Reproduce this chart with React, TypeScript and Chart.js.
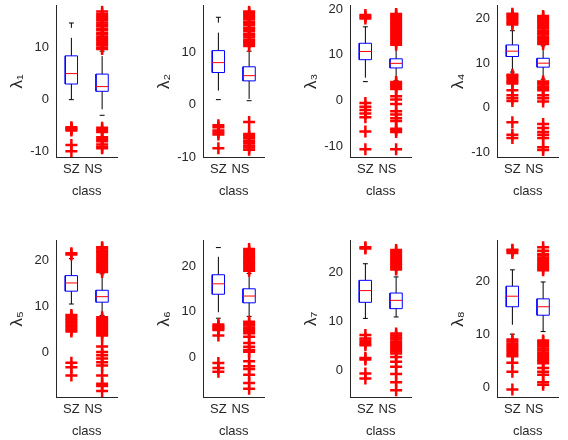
import React, { useEffect, useRef } from 'react';
import { Chart, registerables } from 'chart.js';

Chart.register(...registerables);

// ---------------- data ----------------
const classes = ['SZ', 'NS'];
const panelLabels = ['λ₁', 'λ₂', 'λ₃', 'λ₄', 'λ₅', 'λ₆', 'λ₇', 'λ₈'];
const yMin = [-11, -10, -12.4, -11.1, -9.8, -8.8, -5.5, -1.9];
const yMax = [18, 19, 20.7, 22.9, 24.3, 25.7, 26.5, 27.7];

// [SZ, NS] for each panel
const q1Values = [[3.0, 1.6], [6.2, 4.6], [8.9, 7.1], [11.5, 9.1], [13.3, 10.9], [13.9, 12.0], [13.9, 12.6], [15.2, 13.6]];
const medianValues = [[5.0, 2.5], [8.1, 5.6], [10.7, 8.1], [12.7, 10.0], [15.1, 12.1], [16.2, 13.5], [16.3, 14.3], [17.2, 15.2]];
const q3Values = [[8.4, 4.9], [10.4, 7.3], [12.5, 9.1], [14.1, 11.1], [16.7, 13.5], [18.2, 15.1], [18.4, 15.8], [19.1, 16.7]];
const lowerWhisker = [[0.0, -3.0], [1.0, 0.8], [4.1, 4.3], [8.0, 6.4], [10.5, 8.0], [8.6, 9.0], [10.6, 10.9], [10.0, 10.5]];
const upperWhisker = [[14.7, 9.3], [16.8, 10.3], [16.1, 12.1], [17.3, 13.9], [20.4, 17.1], [24.2, 18.5], [21.8, 19.1], [22.2, 19.9]];

const outliersSZ = [
  [-5.3, -5.5, -5.7, -5.9, -8.7, -9.9],
  [-3.9, -4.3, -4.9, -5.3, -5.7, -8.3],
  [17.9, 18.3, 18.7, -0.6, -1.4, -2.1, -2.9, -3.7, -6.8, -10.7],
  [18.7, 19.1, 19.5, 20.0, 20.4, 20.8, 21.1, 5.4, 5.8, 6.2, 6.7, 7.1, 7.4, 3.9, 2.8, 2.1, 1.5, -3.3, -6.1, -6.8],
  [21.3, 21.6, 4.5, 4.9, 5.3, 5.7, 6.1, 6.5, 6.9, 7.3, 7.7, 8.1, -2.3, -3.3, -5.1],
  [6.0, 6.3, 6.6, 6.9, 7.2, 4.8, -1.3, -2.4, -3.2],
  [24.9, 25.2, 7.2, 6.5, 6.0, 5.5, 5.1, 2.5, 2.2, -0.7, -1.7],
  [25.4, 25.8, 26.0, 5.8, 6.2, 6.6, 7.0, 7.4, 7.8, 8.2, 8.6, 9.0, 4.6, 2.9, -0.5],
];

const outliersNS = [
  [9.7, 10.0, 10.5, 10.8, 11.3, 11.6, 12.0, 12.5, 12.8, 13.3, 13.6, 14.1, 14.4, 14.8, 15.3, 15.6, 16.0, 16.4, 16.9,
    -5.4, -5.8, -6.2, -7.2, -7.6, -8.0, -8.6, -9.1, -9.3],
  [11.3, 11.7, 12.1, 12.4, 12.9, 13.3, 13.6, 14.1, 14.5, 14.8, 15.3, 15.7, 16.0, 16.5, 16.9, 17.2, 17.6, 17.9,
    -3.3, -5.6, -6.0, -6.4, -6.9, -7.3, -7.8, -8.2, -8.6],
  [12.2, 12.6, 13.0, 13.5, 13.9, 14.3, 14.8, 15.2, 15.6, 16.0, 16.5, 16.9, 17.3, 17.8, 18.2, 18.6, 18.9,
    2.5, 2.9, 3.3, 3.7, 4.0, 0.9, 0.2, -0.8, -2.4, -3.1, -3.9, -4.5, -6.2, -6.5, -6.9, -10.7],
  [14.3, 14.7, 15.2, 15.6, 16.0, 16.5, 16.9, 17.3, 17.8, 18.2, 18.6, 19.1, 19.5, 19.9, 20.3, 20.6,
    3.9, 4.3, 4.7, 5.2, 5.6, 5.9, 2.8, 2.1, 1.4, -3.7, -4.6, -5.5, -6.1, -6.8, -8.9, -9.5],
  [17.5, 17.9, 18.3, 18.8, 19.2, 19.6, 20.1, 20.5, 20.9, 21.4, 21.8, 22.2, 22.6, 22.9,
    3.6, 4.0, 4.4, 4.8, 5.2, 5.6, 6.0, 6.4, 6.8, 7.2, 7.6, 1.2, 0.0, -0.7, -1.4, -2.2, -2.9, -5.1, -6.9, -7.4, -8.5],
  [19.1, 19.5, 19.9, 20.4, 20.8, 21.2, 21.7, 22.1, 22.5, 23.0, 23.4, 23.9,
    5.3, 5.7, 6.1, 6.5, 7.0, 7.4, 7.8, 4.5, 3.1, 2.3, 1.6, 1.2, -0.9, -2.0, -2.6, -3.9, -5.7, -7.0],
  [20.6, 21.0, 21.4, 21.8, 22.2, 22.6, 23.0, 23.4, 23.8, 24.2, 24.6,
    3.4, 3.8, 4.2, 4.6, 5.0, 5.4, 5.8, 6.3, 6.7, 7.1, 7.5, 2.7, 1.7, 0.7, -0.8, -2.5, -4.1],
  [22.1, 22.5, 22.9, 23.3, 23.7, 24.1, 24.5, 24.9, 25.2, 25.8, 26.5,
    4.5, 4.9, 5.3, 5.7, 6.1, 6.5, 6.9, 7.3, 7.7, 8.1, 8.5, 8.8, 3.6, 2.9, 2.3, 0.9, 0.4],
];

// ---------------- layout / style ----------------
const AXIS_X = [56, 203, 350, 497];
const ROW_TOP = [5, 240];
const ROW_H = [152, 157];
const Y_AXIS_W = 56;
const PLOT_W = 64;
const PAD_TOP = 14;
const PAD_RIGHT = 6;
const X_AXIS_H = 47;
const BOX_HALF = 0.2;
const CAP_HALF = 0.08;
const NS_LABEL_POS = 1.72;
const FONT = '"Liberation Sans", Arial, Helvetica, sans-serif';
const AX = '#262626';
const RED = '#ff0000';
const BLUE = '#0000ff';

function segment(points: { x: number; y: number }[], color: string, dash: number[] = []) {
  return {
    data: points,
    showLine: true,
    borderColor: color,
    borderWidth: 1,
    borderDash: dash,
    pointRadius: 0,
    pointHoverRadius: 0,
    fill: false,
    tension: 0,
  };
}

function Panel({ idx }: { idx: number }) {
  const ref = useRef<HTMLCanvasElement>(null);
  const row = idx < 4 ? 0 : 1;
  const col = idx % 4;
  const width = Y_AXIS_W + PLOT_W + PAD_RIGHT;
  const height = PAD_TOP + ROW_H[row] + X_AXIS_H;

  useEffect(() => {
    if (!ref.current) return;
    const outs = [outliersSZ[idx], outliersNS[idx]];
    const top: any[] = [];
    const medians: any[] = [];
    const boxes: any[] = [];
    const caps: any[] = [];
    const whiskers: any[] = [];
    classes.forEach((_, i) => {
      const x = i + 1;
      const q1 = q1Values[idx][i];
      const q3 = q3Values[idx][i];
      const med = medianValues[idx][i];
      const lo = lowerWhisker[idx][i];
      const up = upperWhisker[idx][i];
      top.push({
        data: outs[i].map((v) => ({ x, y: v })),
        showLine: false,
        pointStyle: 'cross',
        pointRadius: 6,
        pointHoverRadius: 6,
        borderColor: RED,
        backgroundColor: RED,
        borderWidth: 2.5,
      });
      medians.push(segment([{ x: x - BOX_HALF, y: med }, { x: x + BOX_HALF, y: med }], RED));
      boxes.push(
        segment(
          [
            { x: x - BOX_HALF, y: q1 },
            { x: x + BOX_HALF, y: q1 },
            { x: x + BOX_HALF, y: q3 },
            { x: x - BOX_HALF, y: q3 },
            { x: x - BOX_HALF, y: q1 },
          ],
          BLUE
        )
      );
      caps.push(segment([{ x: x - CAP_HALF, y: up }, { x: x + CAP_HALF, y: up }], '#000'));
      caps.push(segment([{ x: x - CAP_HALF, y: lo }, { x: x + CAP_HALF, y: lo }], '#000'));
      whiskers.push(segment([{ x, y: q3 }, { x, y: up }], '#000', [18, 10]));
      whiskers.push(segment([{ x, y: q1 }, { x, y: lo }], '#000', [18, 10]));
    });

    const chart = new Chart(ref.current, {
      type: 'scatter',
      data: { datasets: [...top, ...medians, ...boxes, ...caps, ...whiskers] },
      options: {
        animation: false,
        responsive: false,
        events: [],
        layout: { padding: { top: PAD_TOP, right: PAD_RIGHT, bottom: 0, left: 0 } },
        plugins: { legend: { display: false }, tooltip: { enabled: false } },
        scales: {
          x: {
            type: 'linear',
            min: 0.5,
            max: 2.5,
            grid: { display: false, drawTicks: false },
            border: { display: true, color: AX, width: 1 },
            afterBuildTicks: (s: any) => {
              s.ticks = [{ value: 1 }, { value: NS_LABEL_POS }];
            },
            afterFit: (s: any) => {
              s.height = X_AXIS_H;
            },
            ticks: {
              callback: (v: any) => (v === 1 ? classes[0] : classes[1]),
              font: { family: FONT, size: 13 },
              color: AX,
              padding: 5,
              maxRotation: 0,
              autoSkip: false,
            },
            title: {
              display: true,
              text: 'class',
              font: { family: FONT, size: 13 },
              color: AX,
              padding: { top: 0, bottom: 5 },
            },
          },
          y: {
            type: 'linear',
            min: yMin[idx],
            max: yMax[idx],
            grid: { display: false, drawTicks: false },
            border: { display: true, color: AX, width: 1 },
            afterFit: (s: any) => {
              s.width = Y_AXIS_W;
            },
            ticks: {
              stepSize: 10,
              includeBounds: false,
              font: { family: FONT, size: 13 },
              color: AX,
              padding: 7,
            },
            title: {
              display: true,
              text: panelLabels[idx],
              font: { family: FONT, size: 17 },
              color: AX,
              padding: { top: 7, bottom: 0 },
            },
          },
        },
      } as any,
    });
    return () => chart.destroy();
  }, [idx]);

  return (
    <canvas
      ref={ref}
      width={width}
      height={height}
      style={{
        position: 'absolute',
        left: AXIS_X[col] - Y_AXIS_W,
        top: ROW_TOP[row] - PAD_TOP,
        width,
        height,
      }}
    />
  );
}

export default function App() {
  return (
    <div
      style={{
        position: 'fixed',
        left: 0,
        top: 0,
        width: 568,
        height: 440,
        background: '#fff',
        overflow: 'hidden',
      }}
    >
      {panelLabels.map((_, i) => (
        <Panel key={i} idx={i} />
      ))}
    </div>
  );
}
